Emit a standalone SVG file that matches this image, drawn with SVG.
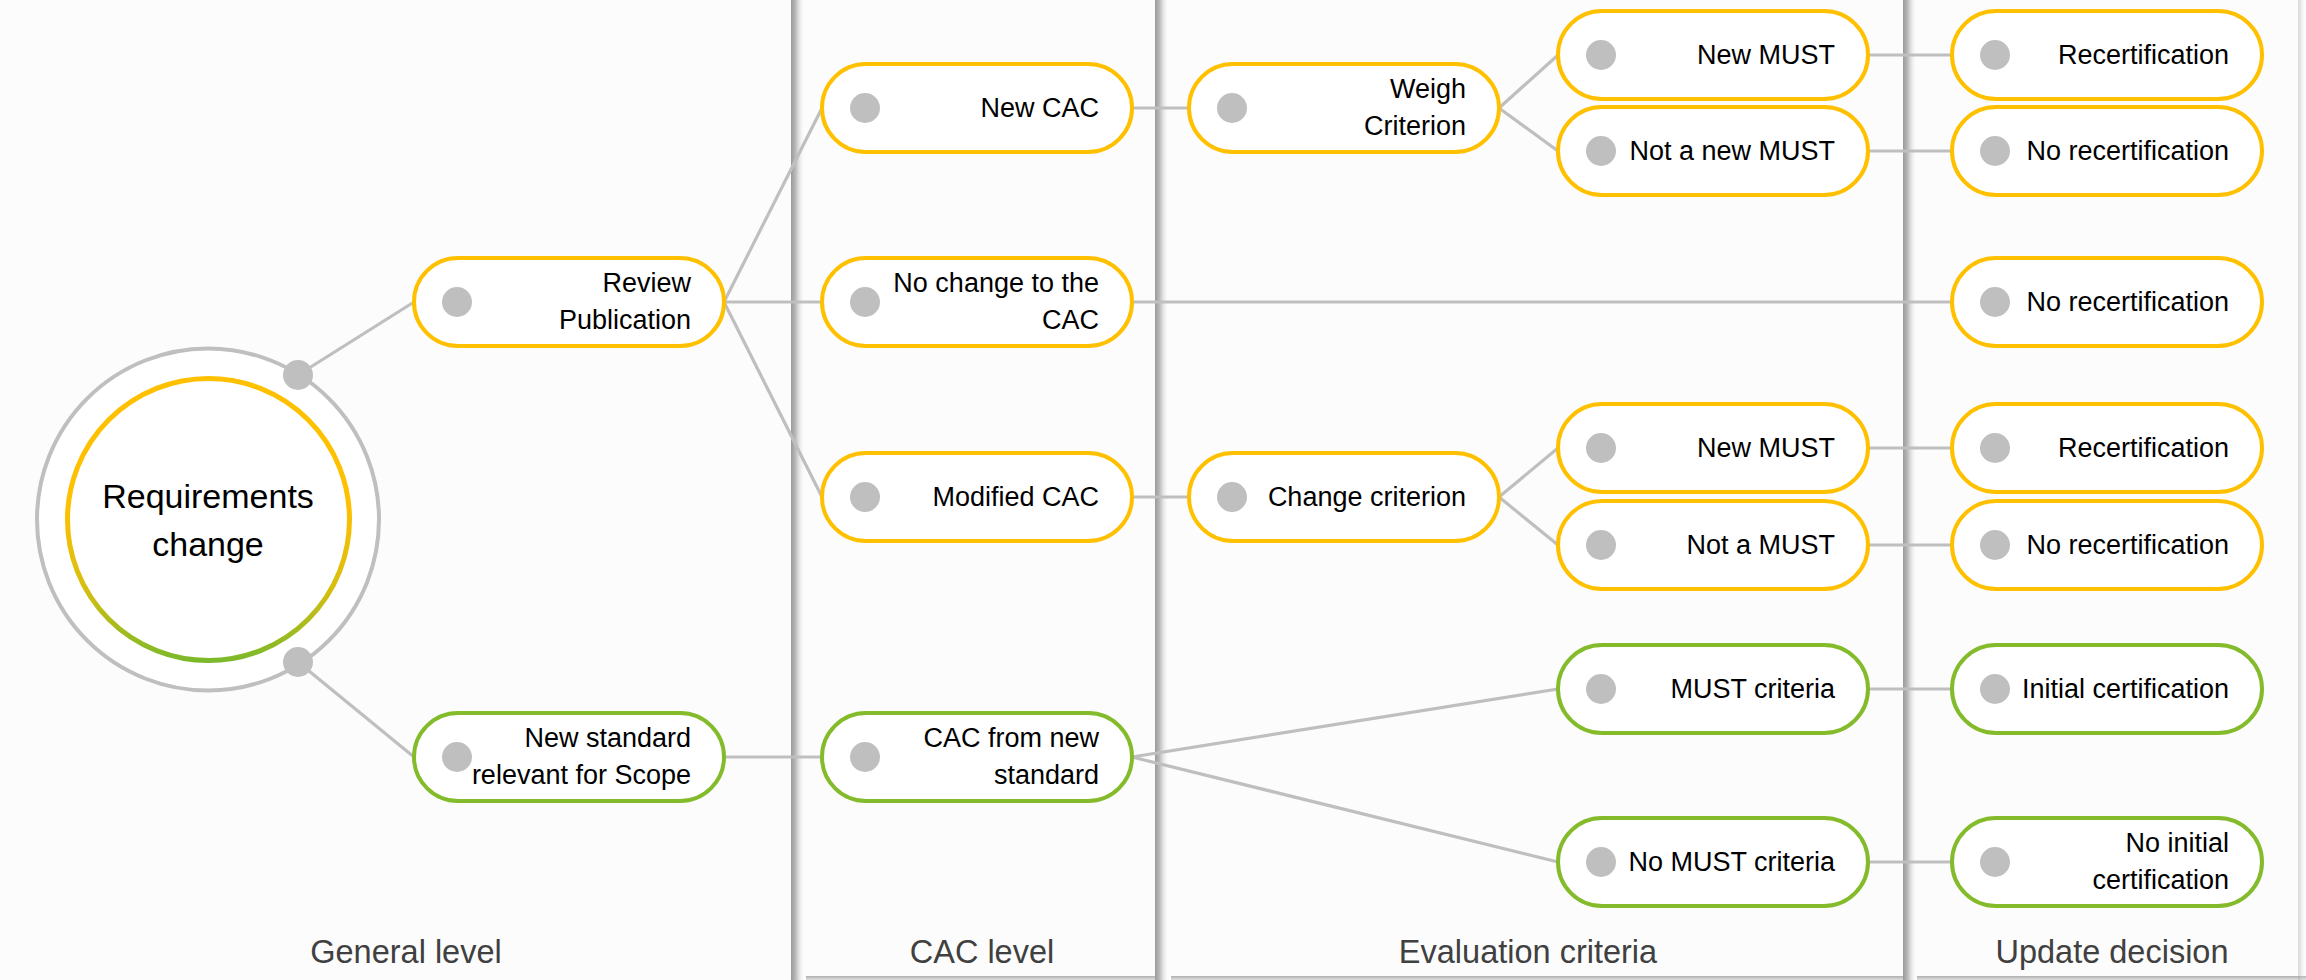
<svg xmlns="http://www.w3.org/2000/svg" width="2306" height="980" viewBox="0 0 2306 980">
<defs>
<style>
.py{fill:#ffffff;stroke:#FFC000;stroke-width:4}
.pg{fill:#ffffff;stroke:#84BB2B;stroke-width:4}
.dot{fill:#bfbfbf}
.lbl{font-family:"Liberation Sans",Arial,sans-serif;font-size:27px;fill:#000;text-anchor:end}
.col{font-family:"Liberation Sans",Arial,sans-serif;font-size:32.5px;fill:#404040;text-anchor:middle}
.con line{stroke:#bfbfbf;stroke-width:3.2;fill:none}
</style>
<linearGradient id="vsh" x1="0" y1="0" x2="1" y2="0">
<stop offset="0" stop-color="#999999"/>
<stop offset="0.35" stop-color="#bdbdbd"/>
<stop offset="1" stop-color="#fcfcfc" stop-opacity="0"/>
</linearGradient>
<linearGradient id="hsh" x1="0" y1="0" x2="0" y2="1">
<stop offset="0" stop-color="#b0b0b0"/>
<stop offset="1" stop-color="#e0e0e0"/>
</linearGradient>
<linearGradient id="ring" x1="0" y1="0" x2="0" y2="1">
<stop offset="0" stop-color="#FFC000"/>
<stop offset="0.45" stop-color="#FFC000"/>
<stop offset="0.75" stop-color="#D6BE10"/>
<stop offset="1" stop-color="#7CB92A"/>
</linearGradient>
</defs>

<g id="background">
<rect x="0" y="0" width="2306" height="980" fill="#fcfcfc"/>
<rect x="806" y="976" width="350" height="4" fill="url(#hsh)"/>
<rect x="1171" y="976" width="733" height="4" fill="url(#hsh)"/>
<rect x="1917" y="976" width="389" height="4" fill="url(#hsh)"/>
<rect x="791" y="0" width="14" height="980" fill="url(#vsh)"/>
<rect x="1155" y="0" width="14" height="980" fill="url(#vsh)"/>
<rect x="1903" y="0" width="14" height="980" fill="url(#vsh)"/>
<rect x="2298" y="0" width="8" height="980" fill="url(#vsh)" opacity="0.35"/>
</g>

<g id="connectors" class="con">
<line x1="298" y1="375" x2="414" y2="302"/>
<line x1="298" y1="662" x2="414" y2="757"/>
<line x1="724" y1="302" x2="822" y2="108"/>
<line x1="724" y1="302" x2="822" y2="302"/>
<line x1="724" y1="302" x2="822" y2="497"/>
<line x1="1132" y1="108" x2="1189" y2="108"/>
<line x1="1499" y1="108" x2="1558" y2="55"/>
<line x1="1499" y1="108" x2="1558" y2="151"/>
<line x1="1868" y1="55" x2="1952" y2="55"/>
<line x1="1868" y1="151" x2="1952" y2="151"/>
<line x1="1132" y1="302" x2="1952" y2="302"/>
<line x1="1132" y1="497" x2="1189" y2="497"/>
<line x1="1499" y1="497" x2="1558" y2="448"/>
<line x1="1499" y1="497" x2="1558" y2="545"/>
<line x1="1868" y1="448" x2="1952" y2="448"/>
<line x1="1868" y1="545" x2="1952" y2="545"/>
<line x1="724" y1="757" x2="822" y2="757"/>
<line x1="1132" y1="757" x2="1558" y2="689"/>
<line x1="1132" y1="757" x2="1558" y2="862"/>
<line x1="1868" y1="689" x2="1952" y2="689"/>
<line x1="1868" y1="862" x2="1952" y2="862"/>
</g>

<g id="n-requirements">
<circle cx="208" cy="519.5" r="171" fill="#ffffff" stroke="#bfbfbf" stroke-width="4"/>
<circle cx="208.5" cy="519.5" r="141" fill="#ffffff" stroke="url(#ring)" stroke-width="5"/>
<text x="208" y="508" font-family="Liberation Sans, Arial, sans-serif" font-size="34" fill="#000" text-anchor="middle">Requirements</text>
<text x="208" y="556" font-family="Liberation Sans, Arial, sans-serif" font-size="34" fill="#000" text-anchor="middle">change</text>
<circle class="dot" cx="298" cy="375" r="15"/>
<circle class="dot" cx="298" cy="662" r="15"/>
</g>

<g id="n-review" transform="translate(414,258)">
<rect class="py" width="310" height="88" rx="44"/><circle class="dot" cx="43" cy="44" r="15"/>
<text class="lbl" x="277" y="34">Review</text><text class="lbl" x="277" y="71">Publication</text>
</g>
<g id="n-newstandard" transform="translate(414,713)">
<rect class="pg" width="310" height="88" rx="44"/><circle class="dot" cx="43" cy="44" r="15"/>
<text class="lbl" x="277" y="34">New standard</text><text class="lbl" x="277" y="71">relevant for Scope</text>
</g>

<g id="n-newcac" transform="translate(822,64)">
<rect class="py" width="310" height="88" rx="44"/><circle class="dot" cx="43" cy="44" r="15"/>
<text class="lbl" x="277" y="53">New CAC</text>
</g>
<g id="n-nochange" transform="translate(822,258)">
<rect class="py" width="310" height="88" rx="44"/><circle class="dot" cx="43" cy="44" r="15"/>
<text class="lbl" x="277" y="34">No change to the</text><text class="lbl" x="277" y="71">CAC</text>
</g>
<g id="n-modified" transform="translate(822,453)">
<rect class="py" width="310" height="88" rx="44"/><circle class="dot" cx="43" cy="44" r="15"/>
<text class="lbl" x="277" y="53">Modified CAC</text>
</g>
<g id="n-cacnew" transform="translate(822,713)">
<rect class="pg" width="310" height="88" rx="44"/><circle class="dot" cx="43" cy="44" r="15"/>
<text class="lbl" x="277" y="34">CAC from new</text><text class="lbl" x="277" y="71">standard</text>
</g>

<g id="n-weigh" transform="translate(1189,64)">
<rect class="py" width="310" height="88" rx="44"/><circle class="dot" cx="43" cy="44" r="15"/>
<text class="lbl" x="277" y="34">Weigh</text><text class="lbl" x="277" y="71">Criterion</text>
</g>
<g id="n-change" transform="translate(1189,453)">
<rect class="py" width="310" height="88" rx="44"/><circle class="dot" cx="43" cy="44" r="15"/>
<text class="lbl" x="277" y="53">Change criterion</text>
</g>

<g id="n-newmust1" transform="translate(1558,11)">
<rect class="py" width="310" height="88" rx="44"/><circle class="dot" cx="43" cy="44" r="15"/>
<text class="lbl" x="277" y="53">New MUST</text>
</g>
<g id="n-notnewmust" transform="translate(1558,107)">
<rect class="py" width="310" height="88" rx="44"/><circle class="dot" cx="43" cy="44" r="15"/>
<text class="lbl" x="277" y="53">Not a new MUST</text>
</g>
<g id="n-newmust2" transform="translate(1558,404)">
<rect class="py" width="310" height="88" rx="44"/><circle class="dot" cx="43" cy="44" r="15"/>
<text class="lbl" x="277" y="53">New MUST</text>
</g>
<g id="n-notmust" transform="translate(1558,501)">
<rect class="py" width="310" height="88" rx="44"/><circle class="dot" cx="43" cy="44" r="15"/>
<text class="lbl" x="277" y="53">Not a MUST</text>
</g>
<g id="n-mustcrit" transform="translate(1558,645)">
<rect class="pg" width="310" height="88" rx="44"/><circle class="dot" cx="43" cy="44" r="15"/>
<text class="lbl" x="277" y="53">MUST criteria</text>
</g>
<g id="n-nomust" transform="translate(1558,818)">
<rect class="pg" width="310" height="88" rx="44"/><circle class="dot" cx="43" cy="44" r="15"/>
<text class="lbl" x="277" y="53">No MUST criteria</text>
</g>

<g id="n-recert1" transform="translate(1952,11)">
<rect class="py" width="310" height="88" rx="44"/><circle class="dot" cx="43" cy="44" r="15"/>
<text class="lbl" x="277" y="53">Recertification</text>
</g>
<g id="n-norecert1" transform="translate(1952,107)">
<rect class="py" width="310" height="88" rx="44"/><circle class="dot" cx="43" cy="44" r="15"/>
<text class="lbl" x="277" y="53">No recertification</text>
</g>
<g id="n-norecert2" transform="translate(1952,258)">
<rect class="py" width="310" height="88" rx="44"/><circle class="dot" cx="43" cy="44" r="15"/>
<text class="lbl" x="277" y="53">No recertification</text>
</g>
<g id="n-recert2" transform="translate(1952,404)">
<rect class="py" width="310" height="88" rx="44"/><circle class="dot" cx="43" cy="44" r="15"/>
<text class="lbl" x="277" y="53">Recertification</text>
</g>
<g id="n-norecert3" transform="translate(1952,501)">
<rect class="py" width="310" height="88" rx="44"/><circle class="dot" cx="43" cy="44" r="15"/>
<text class="lbl" x="277" y="53">No recertification</text>
</g>
<g id="n-initcert" transform="translate(1952,645)">
<rect class="pg" width="310" height="88" rx="44"/><circle class="dot" cx="43" cy="44" r="15"/>
<text class="lbl" x="277" y="53">Initial certification</text>
</g>
<g id="n-noinit" transform="translate(1952,818)">
<rect class="pg" width="310" height="88" rx="44"/><circle class="dot" cx="43" cy="44" r="15"/>
<text class="lbl" x="277" y="34">No initial</text><text class="lbl" x="277" y="71">certification</text>
</g>

<g id="column-labels">
<text class="col" x="406" y="963">General level</text>
<text class="col" x="982" y="963">CAC level</text>
<text class="col" x="1528" y="963">Evaluation criteria</text>
<text class="col" x="2112" y="963">Update decision</text>
</g>
</svg>
